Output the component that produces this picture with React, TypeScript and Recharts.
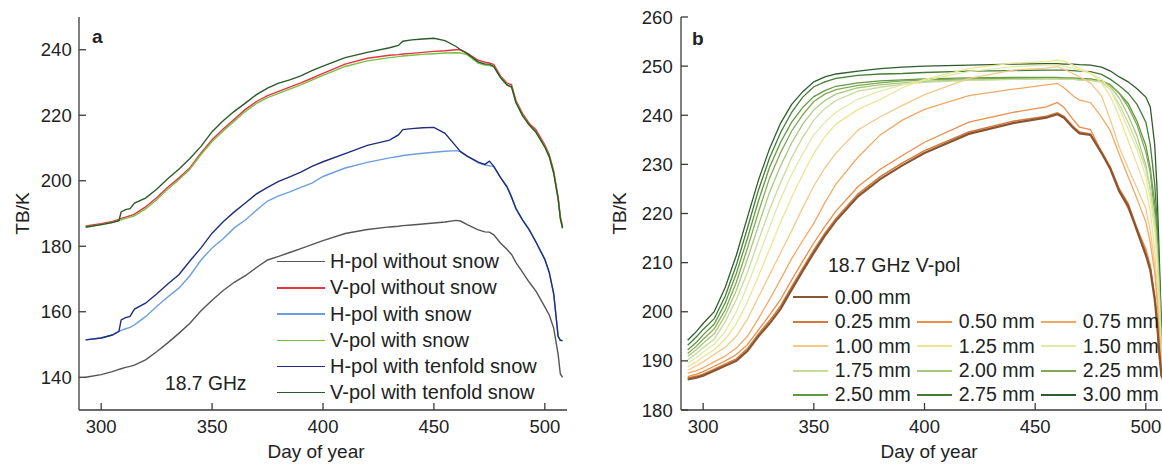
import React from 'react';
import { LineChart, Line, XAxis, YAxis, Legend } from 'recharts';

const FONT = '"Liberation Sans", Arial, Helvetica, sans-serif';
const INK = '#222222';
const AXIS = '#3a3a3a';

// ---- panel a : 18.7 GHz, with / without snow ----
const daysA = [293, 300, 305, 308, 309, 311, 313, 315,
  320, 325, 330, 335, 340, 345, 350, 355, 360, 365, 370, 375, 380, 385, 390, 395, 400,
  410, 420, 430, 434, 436, 440, 445, 450, 455, 460, 462, 465,
  470, 473, 475, 477, 480, 483, 485, 487, 490, 493, 496, 500, 502, 504, 506, 507, 508];

const hNoSnow = [140, 140.8, 141.7, 142.4, 142.6, 143, 143.3, 143.7,
  145.3, 147.8, 150.5, 153.4, 156.5, 160.3, 163.5, 166.5, 169, 171, 173.5, 175.8, 176.9, 178.1, 179.3, 180.5, 181.7,
  183.9, 185.1, 185.9, 186.1, 186.3, 186.5, 186.8, 187.1, 187.4, 187.9, 187.7, 186.6,
  185, 184.4, 184.3, 183.5, 181, 179, 177.5, 175, 172, 169, 166.3, 161.5, 159, 155, 147, 141, 140];

const vNoSnow = [186.2, 186.9, 187.6, 188.2, 188.5, 188.9, 189.3, 189.8,
  192, 194.8, 198, 200.8, 204, 208.5, 212.5, 215.8, 218.8, 221.8, 224.2, 226, 227.3, 228.6, 229.9, 231.3, 232.8,
  235.6, 237.4, 238.3, 238.5, 238.7, 238.9, 239.2, 239.5, 239.7, 240, 240, 239,
  236.8, 236.2, 236, 235.5, 232, 229.8, 229.3, 224.5, 220.5, 217.5, 215.6, 211, 208, 203, 195, 189, 186];

const hSnow = [151.4, 152, 152.9, 154, 154.3, 154.8, 155.2, 156,
  158.5, 161.6, 164.5, 167.2, 171, 175.8, 179.5, 182.3, 185.6, 188, 191, 193.8, 195.4, 196.6, 198, 199.3, 201.3,
  203.9, 205.6, 207, 207.4, 207.7, 208, 208.4, 208.7, 209, 209.2, 208.9, 207.5,
  205.5, 204.8, 204.6, 204.3, 201, 198.3, 195, 191.4, 188, 185, 181.3, 176, 172, 165.5, 152.5, 151.3, 151.2];

const vSnow = [186, 186.6, 187.3, 187.8, 188.1, 188.5, 188.9, 189.3,
  191.4, 194.2, 197.4, 200.3, 203.5, 208, 212, 215.2, 218.2, 221.2, 223.6, 225.4, 226.7, 228, 229.3, 230.7, 232.2,
  234.9, 236.6, 237.6, 237.9, 238.1, 238.3, 238.6, 238.8, 239, 239.1, 239, 238.5,
  235.9, 235.3, 235.2, 234.8, 231.6, 229.3, 228.7, 224, 220, 217, 215, 210.5, 207.5, 202.5, 194.5, 188.5, 185.5];

const hTenfold = [151.4, 152, 152.9, 154, 157.5, 158.2, 158.6, 160.8,
  162.6, 165.4, 168.5, 171.3, 175.5, 179.5, 184, 187.5, 190.5, 193.2, 196, 198, 199.8, 201.2, 202.6, 204.4, 205.8,
  208.3, 210.8, 212.4, 214, 215.6, 215.9, 216.2, 216.3, 214.5, 210.5, 208.9, 207.5,
  205.7, 205, 206, 204.4, 201, 198, 195, 191.5, 188, 185, 181.3, 176, 172, 165.5, 152.5, 151.3, 151.2];

const vTenfold = [185.8, 186.6, 187.2, 187.8, 190.5, 191.2, 191.5, 193.2,
  194.7, 197.4, 200.6, 203.5, 206.8, 210.5, 215, 218.3, 221.2, 223.7, 226.3, 228.3, 229.8, 230.8, 232, 233.6, 235,
  237.6, 239.2, 240.6, 241.3, 242.6, 243, 243.3, 243.5, 242.8, 241, 240, 238.8,
  236.3, 235.6, 235.6, 234.9, 231.5, 229.2, 228.6, 223.8, 219.8, 217, 214.8, 210.3, 207.3, 202.3, 194.5, 188.5, 185.5];

const seriesA = [
  { key: 'hNoSnow', name: 'H-pol without snow', color: '#555555', values: hNoSnow },
  { key: 'vNoSnow', name: 'V-pol without snow', color: '#e8333f', values: vNoSnow },
  { key: 'hSnow', name: 'H-pol with snow', color: '#6b9fdf', values: hSnow },
  { key: 'vSnow', name: 'V-pol with snow', color: '#77c043', values: vSnow },
  { key: 'hTenfold', name: 'H-pol with tenfold snow', color: '#1f2d7c', values: hTenfold },
  { key: 'vTenfold', name: 'V-pol with tenfold snow', color: '#2b5a2a', values: vTenfold },
];

// ---- panel b : 18.7 GHz V-pol, snow water equivalent ----
const daysB = [293, 297, 300, 305, 310, 315,
  320, 325, 330, 335, 340, 345, 350, 355, 360,
  370, 380, 390, 400,
  420, 440, 455, 460, 463, 467, 470,
  475, 480, 484, 488, 492, 496, 500,
  502, 504, 505, 506, 507, 508];

const swe000 = [186.2, 186.6, 187, 188, 189, 190,
  192, 195, 197.6, 200.6, 204.5, 208.3, 212, 215.5, 218.5,
  223.5, 227, 229.8, 232.3,
  236.2, 238.4, 239.5, 240.2, 239.5, 237.5, 236.3,
  236, 232.3, 229, 224.5, 221.5, 216.5, 211.5,
  208.5, 202.5, 198, 192, 187, 186];
const swe025 = [186.5, 186.9, 187.3, 188.3, 189.4, 190.4,
  192.5, 195.5, 198.2, 201.2, 205.1, 208.9, 212.6, 216, 219,
  224, 227.5, 230.3, 232.8,
  236.6, 238.8, 239.8, 240.5, 239.8, 237.8, 236.6,
  236.2, 232.6, 229.4, 225, 222, 217, 212,
  209, 203, 198.5, 192.5, 187.3, 186.3];
const swe050 = [186.8, 187.3, 187.8, 188.9, 190, 191.3,
  193.3, 196.3, 199.3, 202.5, 206.5, 210.3, 214, 217.4, 220.5,
  225.5, 229, 231.8, 234.5,
  238.6, 240.6, 241.7, 242.6, 241.6, 239.2, 237.6,
  237.1, 232.5, 229.2, 224.6, 221, 217, 212.8,
  209.5, 203, 198.3, 191, 187.2, 186.8];
const swe075 = [187.5, 188, 188.6, 189.8, 191, 192.6,
  195, 198.6, 202.5, 206.6, 210.8, 214.5, 218, 222.2, 226,
  231.5, 236, 239, 241.2,
  244, 245.3, 246.2, 246.5, 245.6, 244, 243.1,
  242.6, 239.6, 236.8, 232, 227.5, 223, 218.3,
  214, 208, 202.5, 196, 188.5, 187.5];
const swe100 = [188.1, 189, 189.8, 191.3, 192.8, 195,
  198.5, 203, 207.5, 212, 216.5, 221.2, 225.6, 229.3, 232.3,
  237, 239.7, 242, 244.2,
  247.5, 249.2, 249.6, 249.9, 249.4, 248.5, 247.8,
  246.6, 243.9, 239, 233.5, 229.2, 225.2, 221,
  216.5, 209.5, 204, 197.5, 189.5, 188.3];
const swe125 = [188.8, 189.8, 190.8, 192.3, 194.4, 197.6,
  202, 207.3, 212.7, 218.2, 223.3, 227.9, 232.3, 235.6, 238.2,
  241.2, 243.2, 245.6, 247.3,
  249.5, 250.6, 250.9, 251.2, 251, 250.2, 249.5,
  248.6, 246.6, 243.8, 239.7, 234.8, 230, 225,
  220.5, 212.5, 206.5, 199.5, 190.5, 189];
const swe150 = [189.5, 190.7, 191.8, 193.4, 196, 200,
  205.3, 211.2, 217.2, 223, 228, 232.2, 236, 238.6, 240.6,
  243.3, 244.9, 246.2, 247.1,
  248.9, 249.9, 250.2, 250.2, 250, 249.6, 249.2,
  248.5, 247.3, 245.2, 241.4, 237.2, 233, 227.5,
  223, 216.5, 211, 202, 191, 189.8];
const swe175 = [190.2, 191.5, 192.7, 194.4, 198, 202.5,
  208, 214.5, 220.8, 226.3, 231.4, 235.5, 239, 241.4, 243,
  244.9, 245.7, 246.3, 246.7,
  247.1, 247.3, 247.4, 247.4, 247.3, 247.3, 247.2,
  247.1, 246.7, 245.2, 242.2, 238.5, 234.2, 229,
  225, 218.5, 213, 204, 192, 190.6];
const swe200 = [190.9, 192.3, 193.6, 195.5, 199.3, 204.3,
  210.7, 217.6, 224.3, 229.7, 234.4, 238.2, 241.1, 243, 244.3,
  245.6, 246.2, 246.6, 246.9,
  247.2, 247.3, 247.4, 247.4, 247.3, 247.3, 247.2,
  247.1, 246.9, 245.8, 243.5, 240, 235.8, 229.8,
  225, 218.5, 213.5, 205.5, 192.5, 191.2];
const swe225 = [191.5, 193, 194.4, 196.5, 200.4, 206,
  212.9, 220.3, 227.2, 232.4, 236.8, 240.1, 242.8, 244.3, 245.2,
  246.1, 246.6, 247, 247.2,
  247.4, 247.5, 247.5, 247.5, 247.4, 247.4, 247.3,
  247.2, 247, 246.2, 244.4, 241.7, 238, 232.5,
  228.2, 220, 214, 205.5, 193, 191.8];
const swe250 = [192.2, 193.8, 195.3, 197.5, 201.8, 207.8,
  214.9, 222.6, 229.4, 234.5, 238.6, 241.6, 243.8, 245, 245.9,
  246.6, 247, 247.2, 247.4,
  247.6, 247.7, 247.7, 247.7, 247.6, 247.6, 247.5,
  247.4, 247, 246.2, 244.5, 242.4, 238.8, 233.8,
  229.2, 222, 217, 207, 194, 192.5];
const swe275 = [193.2, 194.9, 196.4, 198.6, 203.2, 209.5,
  217, 224.8, 231.3, 236.5, 240.6, 243.7, 245.8, 246.8, 247.5,
  248.1, 248.4, 248.5, 248.7,
  249, 249.1, 249.2, 249.2, 249.2, 249.1, 249,
  248.9, 248.3, 247.3, 246, 244.5, 242.2, 238.6,
  234, 226, 219, 209, 196, 193.4];
const swe300 = [194.2, 196, 197.6, 200, 205, 211.5,
  219.2, 226.8, 233.2, 238.4, 242.2, 244.8, 246.8, 247.8, 248.4,
  249, 249.5, 249.8, 250,
  250.2, 250.4, 250.5, 250.5, 250.4, 250.4, 250.3,
  250.2, 249.8, 249, 247.8, 246.8, 245.4, 243.7,
  241.7, 234, 225.5, 212, 198, 194];

const seriesB = [
  { key: 's000', name: '0.00 mm', color: '#8a5530', width: 2.2, values: swe000 },
  { key: 's025', name: '0.25 mm', color: '#d27a3a', width: 1.5, values: swe025 },
  { key: 's050', name: '0.50 mm', color: '#ee8c48', width: 1.3, values: swe050 },
  { key: 's075', name: '0.75 mm', color: '#f3a862', width: 1.3, values: swe075 },
  { key: 's100', name: '1.00 mm', color: '#f5c888', width: 1.3, values: swe100 },
  { key: 's125', name: '1.25 mm', color: '#eee592', width: 1.3, values: swe125 },
  { key: 's150', name: '1.50 mm', color: '#e0eaa8', width: 1.3, values: swe150 },
  { key: 's175', name: '1.75 mm', color: '#c5dc9a', width: 1.3, values: swe175 },
  { key: 's200', name: '2.00 mm', color: '#a8c87e', width: 1.3, values: swe200 },
  { key: 's225', name: '2.25 mm', color: '#84a855', width: 1.3, values: swe225 },
  { key: 's250', name: '2.50 mm', color: '#629a40', width: 1.3, values: swe250 },
  { key: 's275', name: '2.75 mm', color: '#447c34', width: 1.3, values: swe275 },
  { key: 's300', name: '3.00 mm', color: '#2d5d2a', width: 1.3, values: swe300 },
];

const xTicks = [300, 350, 400, 450, 500];
const yTicksA = [140, 160, 180, 200, 220, 240];
const yTicksB = [180, 190, 200, 210, 220, 230, 240, 250, 260];

const dataA = daysA.map((day, i) => {
  const row: Record<string, number> = { day };
  seriesA.forEach((s) => { row[s.key] = s.values[i]; });
  return row;
});
const dataB = daysB.map((day, i) => {
  const row: Record<string, number> = { day };
  seriesB.forEach((s) => { row[s.key] = s.values[i]; });
  return row;
});

const tickFont = { fontSize: 18.5, fill: INK, fontFamily: FONT };
const axisStroke = { stroke: AXIS, strokeWidth: 1.3 };

const textStyle: React.CSSProperties = { fontFamily: FONT, fill: INK };

const LegendA = () => (
  <div style={{ position: 'relative', width: 580, height: 465, fontFamily: FONT, color: INK }}>
    {seriesA.map((s, i) => (
      <div key={s.key} style={{ position: 'absolute', left: 277, top: 261.7 + i * 26.2 - 13, height: 26, display: 'flex', alignItems: 'center' }}>
        <span style={{ display: 'inline-block', width: 48, height: 1.6, background: s.color }} />
        <span style={{ marginLeft: 5, fontSize: 20, whiteSpace: 'nowrap' }}>{s.name}</span>
      </div>
    ))}
    <div style={{ position: 'absolute', left: 165, top: 373, fontSize: 19.3, whiteSpace: 'nowrap' }}>18.7 GHz</div>
  </div>
);

// row layout of the panel b legend: one item, then rows of three
const legendRowsB = [['s000'], ['s025', 's050', 's075'], ['s100', 's125', 's150'], ['s175', 's200', 's225'], ['s250', 's275', 's300']];

const LegendB = () => (
  <div style={{ position: 'relative', width: 580, height: 465, fontFamily: FONT, color: INK }}>
    <div style={{ position: 'absolute', left: 228, top: 254, fontSize: 19.5, whiteSpace: 'nowrap' }}>18.7 GHz V-pol</div>
    {legendRowsB.map((row, r) =>
      row.map((key, c) => {
        const s = seriesB.find((d) => d.key === key)!;
        return (
          <div key={key} style={{ position: 'absolute', left: 193.3 + c * 124, top: 297.3 + r * 24.4 - 12, height: 24, display: 'flex', alignItems: 'center' }}>
            <span style={{ display: 'inline-block', width: 35, height: 2, background: s.color }} />
            <span style={{ marginLeft: 6.5, fontSize: 19.5, whiteSpace: 'nowrap' }}>{s.name}</span>
          </div>
        );
      })
    )}
  </div>
);

const legendWrap: React.CSSProperties = { position: 'absolute', left: 0, top: 0, width: 580, height: 465, pointerEvents: 'none' };

const App = () => (
  <div style={{ position: 'absolute', left: 0, top: 0, width: 1162, height: 465, overflow: 'hidden', background: '#fff' }}>
    <div style={{ position: 'absolute', left: 0, top: 0 }}>
      <LineChart width={580} height={465} data={dataA} margin={{ top: 17, right: 13, bottom: 0, left: 0 }}>
        <XAxis
          dataKey="day" type="number" domain={[290, 510]} ticks={xTicks} interval={0} allowDataOverflow
          height={55} tickSize={-7} tickMargin={17} tick={tickFont} axisLine={axisStroke} tickLine={axisStroke}
          label={() => <text x={316} y={458.3} textAnchor="middle" fontSize={19} style={textStyle}>Day of year</text>}
        />
        <XAxis xAxisId="top" orientation="top" type="number" domain={[290, 510]} height={0} tick={false} tickLine={false} axisLine={axisStroke} />
        <YAxis
          type="number" domain={[130, 250]} ticks={yTicksA} interval={0} allowDataOverflow
          width={79} tickSize={-7} tickMargin={14.3} tick={tickFont} axisLine={axisStroke} tickLine={axisStroke}
          label={() => <text x={29} y={213.5} textAnchor="middle" fontSize={19} transform="rotate(-90 29 213.5)" style={textStyle}>TB/K</text>}
        />
        <YAxis yAxisId="right" orientation="right" type="number" domain={[130, 250]} width={0} tick={false} tickLine={false} axisLine={axisStroke} />
        {seriesA.map((s) => (
          <Line key={s.key} type="linear" dataKey={s.key} name={s.name} stroke={s.color} strokeWidth={1.4} dot={false} activeDot={false} isAnimationActive={false} />
        ))}
        <Legend layout="vertical" align="center" verticalAlign="middle" wrapperStyle={legendWrap} content={() => <LegendA />} />
        <text x={92} y={43} fontSize={19} fontWeight="bold" style={textStyle}>a</text>
      </LineChart>
    </div>

    <div style={{ position: 'absolute', left: 600, top: 0 }}>
      <LineChart width={580} height={465} data={dataB} margin={{ top: 17, right: 12, bottom: 0, left: 0 }}>
        <XAxis
          dataKey="day" type="number" domain={[290, 510]} ticks={xTicks} interval={0} allowDataOverflow
          height={55} tickSize={-7} tickMargin={17} tick={tickFont} axisLine={axisStroke} tickLine={axisStroke}
          label={() => <text x={329} y={458.3} textAnchor="middle" fontSize={19} style={textStyle}>Day of year</text>}
        />
        <XAxis xAxisId="top" orientation="top" type="number" domain={[290, 510]} height={0} tick={false} tickLine={false} axisLine={axisStroke} />
        <YAxis
          type="number" domain={[180, 260]} ticks={yTicksB} interval={0} allowDataOverflow
          width={81} tickSize={-7} tickMargin={15.3} tick={tickFont} axisLine={axisStroke} tickLine={axisStroke}
          label={() => <text x={26} y={213.5} textAnchor="middle" fontSize={19} transform="rotate(-90 26 213.5)" style={textStyle}>TB/K</text>}
        />
        {[...seriesB].reverse().map((s) => (
          <Line key={s.key} type="linear" dataKey={s.key} name={s.name} stroke={s.color} strokeWidth={s.width} dot={false} activeDot={false} isAnimationActive={false} />
        ))}
        <Legend layout="vertical" align="center" verticalAlign="middle" wrapperStyle={legendWrap} content={() => <LegendB />} />
        <text x={92} y={45} fontSize={19} fontWeight="bold" style={textStyle}>b</text>
      </LineChart>
    </div>
  </div>
);

export default App;
